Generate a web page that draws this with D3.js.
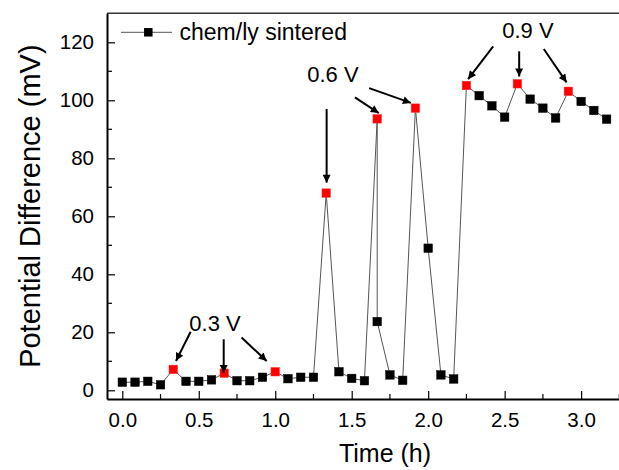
<!DOCTYPE html>
<html>
<head>
<meta charset="utf-8">
<script src="https://cdn.jsdelivr.net/npm/d3@7"></script>
<style>
  html, body { margin: 0; padding: 0; background: #fff; }
  svg { display: block; font-family: "Liberation Sans", Arial, sans-serif; }
</style>
</head>
<body>
<svg id="chart" width="619" height="470"></svg>
<script>
// ---- data ----
const times = [0, 1/12, 2/12, 3/12, 4/12, 5/12, 6/12, 7/12, 8/12, 9/12, 10/12, 11/12,
  1, 13/12, 14/12, 15/12, 16/12, 17/12, 18/12, 19/12, 20/12, 20/12, 21/12, 22/12,
  23/12, 2, 25/12, 26/12, 27/12, 28/12, 29/12, 30/12, 31/12, 32/12, 33/12, 34/12,
  35/12, 3, 37/12, 38/12];
const potential = [2.8, 2.8, 3.1, 1.9, 7.2, 3.1, 3.1, 3.6, 5.9, 3.3, 3.3, 4.5,
  6.4, 4.0, 4.5, 4.5, 68.0, 6.4, 4.1, 3.3, 93.6, 23.7, 5.3, 3.45,
  97.3, 49.0, 5.3, 3.9, 105.1, 101.6, 98.1, 94.2, 105.7, 100.4, 97.3, 93.9,
  103.1, 99.6, 96.5, 93.5];
const highlighted = [4, 8, 12, 16, 20, 24, 28, 32, 36]; // red points (voltage applied)
const seriesName = "chem/ly sintered";
const xTicks = [0, 0.5, 1.0, 1.5, 2.0, 2.5, 3.0];
const yTicks = [0, 20, 40, 60, 80, 100, 120];
const xLabel = "Time (h)";
const yLabel = "Potential Difference (mV)";
// annotations: label position and arrows (from -> to), in data units
const annotLabels = [
  { text: "0.3 V", t: 0.606, v: 23.2 },
  { text: "0.6 V", t: 1.377, v: 108.8 },
  { text: "0.9 V", t: 2.652, v: 124.1 }
];
const annotArrows = [
  { t0: 0.447, v0: 20.2, t1: 0.351, v1: 10.1 },
  { t0: 0.663, v0: 17.6, t1: 0.663, v1: 6.0 },
  { t0: 0.780, v0: 18.2, t1: 0.944, v1: 10.1 },
  { t0: 1.336, v0: 97.0, t1: 1.336, v1: 71.6 },
  { t0: 1.521, v0: 101.0, t1: 1.677, v1: 95.6 },
  { t0: 1.614, v0: 104.2, t1: 1.887, v1: 99.1 },
  { t0: 2.425, v0: 118.6, t1: 2.261, v1: 107.3 },
  { t0: 2.595, v0: 116.9, t1: 2.595, v1: 108.2 },
  { t0: 2.756, v0: 117.7, t1: 2.905, v1: 106.2 }
];

// ---- layout ----
const svg = d3.select("#chart");
const mLeft = 107, mTop = 13.3, mRight = 627, mBottom = 399;
const x = d3.scaleLinear().domain([-0.1, 3.3]).range([mLeft, mRight]);
const y = d3.scaleLinear().domain([-3, 130]).range([mBottom, mTop]);

const defs = svg.append("defs");
defs.append("marker")
  .attr("id", "arrow").attr("viewBox", "0 0 10 10")
  .attr("refX", 10).attr("refY", 5)
  .attr("markerWidth", 5).attr("markerHeight", 4)
  .attr("markerUnits", "strokeWidth")
  .attr("orient", "auto")
  .append("path").attr("d", "M0,0 L10,5 L0,10 z").attr("fill", "#000");

// frame (top + right)
svg.append("path")
  .attr("d", `M${mLeft},${mTop} H${mRight} V${mBottom}`)
  .attr("fill", "none").attr("stroke", "#333").attr("stroke-width", 1.5);

// axes with inward ticks
const xMinor = d3.range(0, 3.3, 0.25).filter(d => !xTicks.some(t => Math.abs(t - d) < 1e-6));
const yMinor = d3.range(10, 130, 20);

const xAxis = svg.append("g").attr("transform", `translate(0,${mBottom})`)
  .call(d3.axisBottom(x).tickValues(xTicks).tickFormat(d3.format(".1f")).tickSizeInner(-8).tickSizeOuter(0).tickPadding(13));
xAxis.append("g").selectAll("line").data(xMinor).join("line")
  .attr("x1", d => x(d)).attr("x2", d => x(d)).attr("y1", 0).attr("y2", -5)
  .attr("stroke", "#000").attr("stroke-width", 1.2);

const yAxis = svg.append("g").attr("transform", `translate(${mLeft},0)`)
  .call(d3.axisLeft(y).tickValues(yTicks).tickFormat(d3.format("d")).tickSizeInner(-8).tickSizeOuter(0).tickPadding(13));
yAxis.append("g").selectAll("line").data(yMinor).join("line")
  .attr("y1", d => y(d)).attr("y2", d => y(d)).attr("x1", 0).attr("x2", 5)
  .attr("stroke", "#000").attr("stroke-width", 1.2);

[xAxis, yAxis].forEach(a => {
  a.select(".domain").attr("stroke", "#000").attr("stroke-width", 2);
  a.selectAll(".tick line").attr("stroke", "#000").attr("stroke-width", 1.2);
  a.selectAll("text").attr("font-size", 20.5).attr("fill", "#000")
    .attr("font-family", "'Liberation Sans', Arial, sans-serif");
});

// axis titles
svg.append("text").attr("x", 385).attr("y", 462).attr("text-anchor", "middle")
  .attr("font-size", 25).attr("fill", "#000").text(xLabel);
svg.append("text").attr("transform", `translate(40,${(mTop + mBottom) / 2}) rotate(-90)`)
  .attr("text-anchor", "middle").attr("font-size", 29).attr("fill", "#000").text(yLabel);

// series line
const pts = times.map((t, i) => ({ t, v: potential[i], red: highlighted.includes(i) }));
svg.append("path").datum(pts)
  .attr("d", d3.line().x(d => x(d.t)).y(d => y(d.v)))
  .attr("fill", "none").attr("stroke", "#555").attr("stroke-width", 1);

// markers
const s = 8.5;
svg.append("g").selectAll("rect").data(pts).join("rect")
  .attr("x", d => x(d.t) - s / 2).attr("y", d => y(d.v) - s / 2)
  .attr("width", s).attr("height", s)
  .attr("fill", d => d.red ? "#ff0000" : "#000")
  .attr("stroke", d => d.red ? "#ff3030" : "#000").attr("stroke-width", 0.5);

// annotations
svg.append("g").selectAll("line").data(annotArrows).join("line")
  .attr("x1", d => x(d.t0)).attr("y1", d => y(d.v0))
  .attr("x2", d => x(d.t1)).attr("y2", d => y(d.v1))
  .attr("stroke", "#000").attr("stroke-width", 2)
  .attr("marker-end", "url(#arrow)");
svg.append("g").selectAll("text").data(annotLabels).join("text")
  .attr("x", d => x(d.t)).attr("y", d => y(d.v))
  .attr("text-anchor", "middle").attr("dominant-baseline", "central")
  .attr("font-size", 22).attr("fill", "#000").text(d => d.text);

// legend
const lg = svg.append("g").attr("transform", "translate(121,32.3)");
lg.append("line").attr("x1", 0).attr("x2", 51).attr("stroke", "#555").attr("stroke-width", 1);
lg.append("rect").attr("x", 27.3 - s / 2).attr("y", -s / 2).attr("width", s).attr("height", s).attr("fill", "#000");
lg.append("text").attr("x", 58.5).attr("y", 0).attr("dominant-baseline", "central")
  .attr("font-size", 23).attr("fill", "#000").text(seriesName);
</script>
</body>
</html>
